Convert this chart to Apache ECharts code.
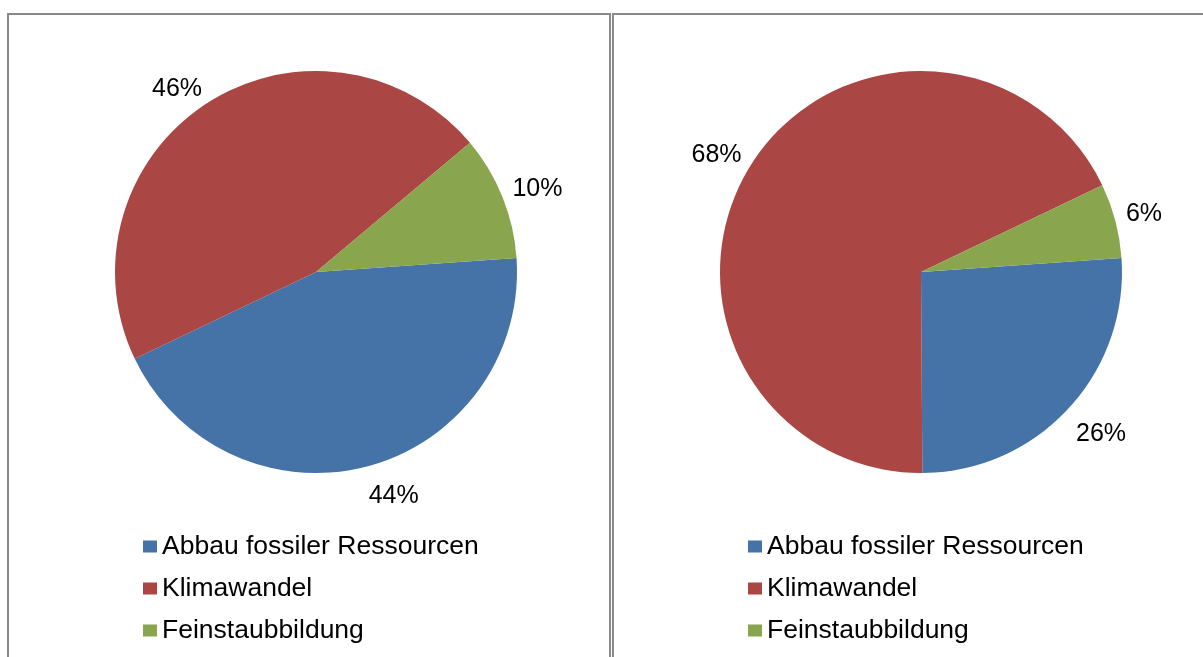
<!DOCTYPE html>
<html>
<head>
<meta charset="utf-8">
<script src="https://cdn.jsdelivr.net/npm/echarts@6/dist/echarts.min.js"></script>
<style>
html,body{margin:0;padding:0;background:#fff;}
#chart{width:1203px;height:657px;}
</style>
</head>
<body>
<div id="chart"></div>
<script>
// Data
const categories = ['Abbau fossiler Ressourcen', 'Klimawandel', 'Feinstaubbildung'];
const leftValues = [44, 46, 10];
const rightValues = [26, 68, 6];
const colors = ['#4572A7', '#AA4643', '#89A54E'];

const chart = echarts.init(document.getElementById('chart'), null, {renderer: 'canvas'});

// style constants for Excel-like "outside end" label placement
const LINE_LEN = 36;      // helper (invisible) label line length
const LABEL_GAP = 13;     // gap between pie edge and nearest label corner
const LABEL_HALF_H = 10;  // visual half-height of the digits
const LABEL_DY = 7;       // baseline correction

function excelLabelLayout(params) {
  const pts = params.labelLinePoints;
  if (!pts || pts.length < 2) return {};
  const dx = (pts[1][0] - pts[0][0]) / LINE_LEN;
  const dy = (pts[1][1] - pts[0][1]) / LINE_LEN;
  const px = pts[0][0] + dx * LABEL_GAP;
  const py = pts[0][1] + dy * LABEL_GAP;
  const halfW = params.labelRect.width / 2;
  return {
    x: px + Math.sign(dx) * (halfW - 2),
    y: py + Math.sign(dy) * LABEL_HALF_H + LABEL_DY,
    align: 'center',
    verticalAlign: 'middle'
  };
}

function pieSeries(values, cx) {
  return {
    type: 'pie',
    center: [cx, 272],
    radius: 201,
    startAngle: 4,
    clockwise: true,
    avoidLabelOverlap: false,
    emphasis: { disabled: true },
    data: categories.map((c, i) => ({ name: c, value: values[i], itemStyle: { color: colors[i] } })),
    itemStyle: { borderWidth: 0 },
    label: {
      show: true,
      position: 'outside',
      formatter: '{d}%',
      fontFamily: 'Liberation Sans, Arial, sans-serif',
      fontSize: 25,
      color: '#000'
    },
    labelLine: { show: true, length: LINE_LEN, length2: 0, lineStyle: { opacity: 0 } },
    labelLayout: excelLabelLayout
  };
}

function legendAt(left) {
  return {
    orient: 'vertical',
    left: left,
    top: 528,
    itemWidth: 14,
    itemHeight: 12,
    itemGap: 15,
    icon: 'rect',
    selectedMode: false,
    data: categories,
    textStyle: { fontFamily: 'Liberation Sans, Arial, sans-serif', fontSize: 26.5, color: '#000' }
  };
}

chart.setOption({
  backgroundColor: '#fff',
  animation: false,
  legend: [legendAt(138), legendAt(743)],
  graphic: [
    { type: 'rect', shape: { x: 8, y: 14, width: 602, height: 700 }, style: { fill: 'none', stroke: '#898989', lineWidth: 2 }, silent: true },
    { type: 'rect', shape: { x: 613, y: 14, width: 600, height: 700 }, style: { fill: 'none', stroke: '#898989', lineWidth: 2 }, silent: true }
  ],
  series: [pieSeries(leftValues, 316), pieSeries(rightValues, 921)]
});
</script>
</body>
</html>
